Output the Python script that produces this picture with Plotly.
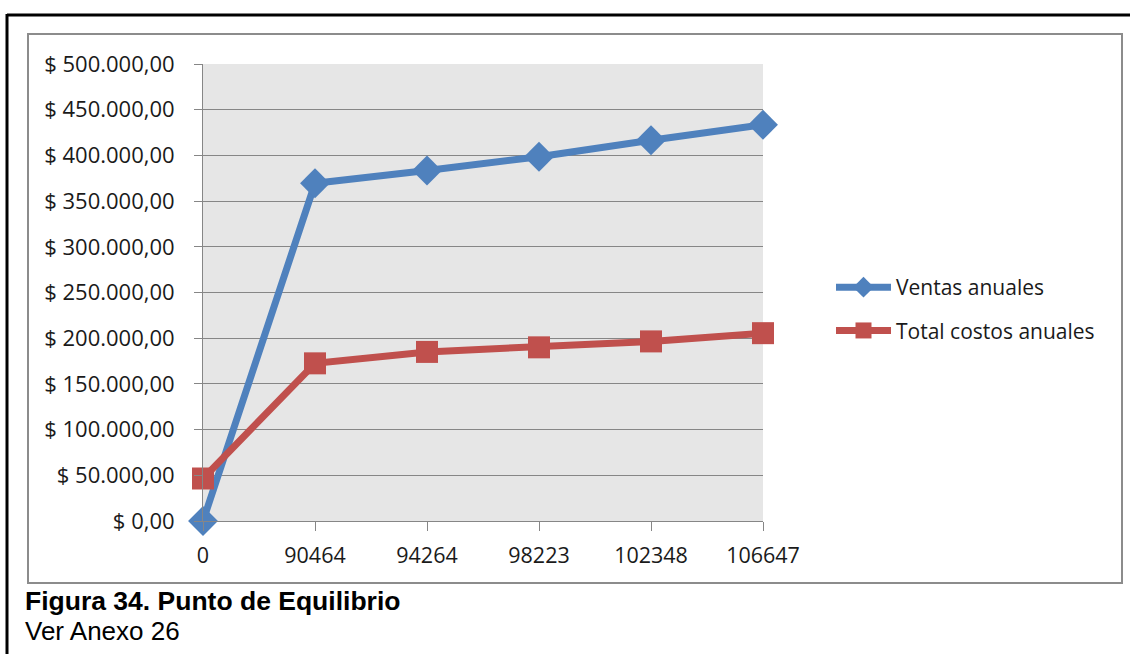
import plotly.graph_objects as go

categories = ["0", "90464", "94264", "98223", "102348", "106647"]
ventas = [0, 369500, 383500, 398500, 416500, 433500]
costos = [46500, 172500, 185000, 190000, 196500, 205500]
y_ticks = [0, 50000, 100000, 150000, 200000, 250000, 300000, 350000, 400000, 450000, 500000]
y_tick_text = ["$ 0,00", "$ 50.000,00", "$ 100.000,00", "$ 150.000,00", "$ 200.000,00",
               "$ 250.000,00", "$ 300.000,00", "$ 350.000,00", "$ 400.000,00",
               "$ 450.000,00", "$ 500.000,00"]

W, H = 1130, 654
L, R, T, B = 203, 763, 64, 521

def px(x):
    return (x - L) / (R - L)

def py(y):
    return (B - y) / (B - T)

BLUE = "#4F81BD"
RED = "#C0504D"
GRID = "#868686"
FONT = "Open Sans"
TXT = "#1a1a1a"

fig = go.Figure()
fig.add_trace(go.Scatter(
    x=categories, y=ventas, name="Ventas anuales", mode="lines+markers",
    line=dict(color=BLUE, width=7),
    marker=dict(symbol="diamond", size=23, color=BLUE),
    legendgroup="v", cliponaxis=False))
fig.add_trace(go.Scatter(
    x=categories, y=costos, name="Total costos anuales", mode="lines+markers",
    line=dict(color=RED, width=7),
    marker=dict(symbol="square", size=22, color=RED),
    legendgroup="c", cliponaxis=False))

shapes = [
    dict(type="line", xref="paper", yref="paper", x0=px(7), x1=px(1135), y0=py(15), y1=py(15),
         line=dict(color="black", width=3)),
    dict(type="line", xref="paper", yref="paper", x0=px(7), x1=px(7), y0=py(14), y1=py(660),
         line=dict(color="black", width=3)),
    dict(type="rect", xref="paper", yref="paper", x0=px(28), x1=px(1122), y0=py(34), y1=py(583),
         line=dict(color="#8C8C8C", width=2), layer="below"),
]

annotations = [
    dict(text="<b>Figura 34. Punto de Equilibrio</b>", xref="paper", yref="paper",
         x=px(23), y=py(601), xanchor="left", yanchor="middle", showarrow=False,
         font=dict(family="Liberation Sans", size=26.5, color="black")),
    dict(text="Ver Anexo 26", xref="paper", yref="paper",
         x=px(23), y=py(631), xanchor="left", yanchor="middle", showarrow=False,
         font=dict(family="Liberation Sans", size=26, color="black")),
]

fig.update_layout(
    width=W, height=H,
    margin=dict(l=L, r=W - R, t=T, b=H - B, pad=0),
    paper_bgcolor="white",
    plot_bgcolor="#E6E6E6",
    font=dict(family=FONT, size=22, color=TXT),
    showlegend=True,
    legend=dict(x=px(831), y=py(267), xanchor="left", yanchor="top",
                font=dict(family=FONT, size=21, color=TXT),
                itemwidth=55, tracegroupgap=13, bgcolor="rgba(0,0,0,0)"),
    shapes=shapes,
    annotations=annotations,
    xaxis=dict(type="category", range=[0, 5], showgrid=False, zeroline=False,
               showline=True, linecolor=GRID, linewidth=1,
               ticks="outside", ticklen=9, tickcolor=GRID, tickwidth=1,
               tickfont=dict(family=FONT, size=21.5, color=TXT),
               ticklabelstandoff=6),
    yaxis=dict(range=[0, 500000], tickvals=y_ticks, ticktext=y_tick_text,
               showgrid=True, gridcolor=GRID, gridwidth=1, zeroline=False,
               showline=True, linecolor=GRID, linewidth=1,
               ticks="outside", ticklen=8, tickcolor=GRID, tickwidth=1,
               tickfont=dict(family=FONT, size=22, color=TXT),
               ticklabelstandoff=15),
)

fig.write_html("out.html", config={"displayModeBar": False},
               post_script="document.body.style.margin='0';")
